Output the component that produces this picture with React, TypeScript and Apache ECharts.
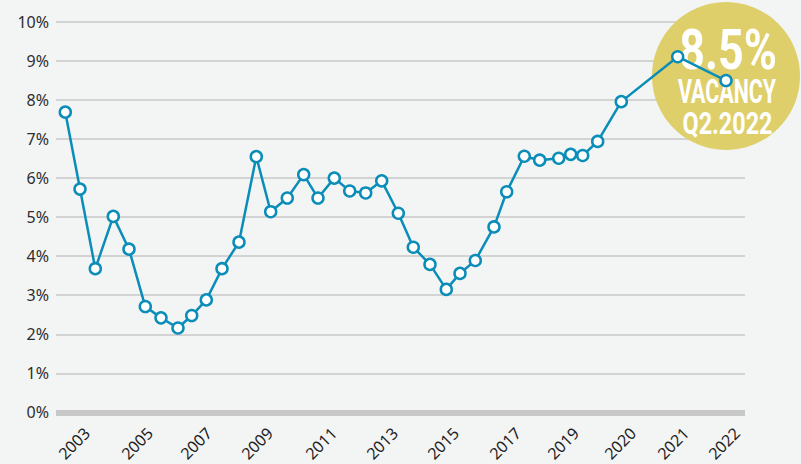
import React, { useEffect, useRef } from "react";
import * as echarts from "echarts";

// Position of each observation along the (non-linear) timeline, in axis units
const timelinePos = [
  9.3, 24, 39.3, 57.3, 73, 89.3, 105, 122, 135.7, 150.3, 166, 183, 200.3,
  214.7, 231.3, 247.7, 262, 278.3, 293.7, 309.7, 325.7, 342.3, 357.3, 374,
  390.3, 404, 419.3, 438, 450.7, 468.3, 483.7, 502.7, 514.7, 526.7, 541.7,
  565.3, 621.7, 670,
];
// Vacancy rate, %
const vacancy = [
  7.69, 5.72, 3.68, 5.02, 4.18, 2.71, 2.42, 2.16, 2.48, 2.88, 3.68, 4.36, 6.55,
  5.14, 5.49, 6.09, 5.49, 6.0, 5.67, 5.62, 5.93, 5.1, 4.23, 3.79, 3.15, 3.56,
  3.89, 4.75, 5.65, 6.56, 6.46, 6.51, 6.61, 6.58, 6.94, 7.96, 9.11, 8.5,
];
// Year tick labels and where they sit on the timeline
const yearLabels = [
  "2003", "2005", "2007", "2009", "2011", "2013", "2015", "2017", "2019",
  "2020", "2021", "2022",
];
const labelPos = [31, 94, 153, 214, 278, 339, 400, 462, 520, 577, 630, 681];
const yTicks = [0, 10, 1];

const badgeFont = (size: number) =>
  `bold ${size}px Roboto, "Noto Sans", sans-serif`;

export default function App() {
  const ref = useRef<HTMLDivElement>(null);
  useEffect(() => {
    if (!ref.current) return;
    const chart = echarts.init(ref.current, null, { renderer: "svg" });
    const data = timelinePos.map((x, i) => [x, vacancy[i]]);
    chart.setOption({
      animation: false,
      backgroundColor: "#f3f4f4",
      grid: { left: 56, right: 56, top: 22, bottom: 51, containLabel: false },
      xAxis: {
        type: "value",
        min: 0,
        max: 689,
        splitLine: { show: false },
        axisLine: { show: false },
        axisTick: { show: false },
        axisLabel: {
          customValues: labelPos,
          rotate: 45,
          margin: 18,
          fontSize: 16,
          color: "#1e1e1e",
          fontFamily: "Noto Sans",
          formatter: (v: number) => {
            const i = labelPos.indexOf(v);
            return i >= 0 ? yearLabels[i] : "";
          },
        },
      },
      yAxis: {
        type: "value",
        min: yTicks[0],
        max: yTicks[1],
        interval: yTicks[2],
        axisLine: { show: false },
        axisTick: { show: false },
        axisLabel: {
          formatter: "{value}%",
          fontSize: 16,
          color: "#2e2e2e",
          margin: 7,
          fontFamily: "Noto Sans",
        },
        splitLine: { lineStyle: { color: "#d3d3d3", width: 2 } },
      },
      graphic: [
        {
          type: "line",
          z: 1,
          shape: { x1: 56, y1: 413, x2: 745, y2: 413 },
          style: { stroke: "#c8c8c8", lineWidth: 6 },
        },
        {
          type: "circle",
          z: 1,
          shape: { cx: 726, cy: 76, r: 74 },
          style: { fill: "#dfcf6b" },
        },
        {
          type: "text",
          z: 2,
          x: 728,
          y: 50,
          scaleX: 0.8,
          style: {
            text: "8.5%",
            fill: "#ffffff",
            font: badgeFont(56),
            align: "center",
            verticalAlign: "middle",
          },
        },
        {
          type: "text",
          z: 2,
          x: 727,
          y: 91.5,
          scaleX: 0.63,
          style: {
            text: "VACANCY",
            fill: "#ffffff",
            font: badgeFont(34),
            align: "center",
            verticalAlign: "middle",
          },
        },
        {
          type: "text",
          z: 2,
          x: 727.5,
          y: 123,
          scaleX: 0.73,
          style: {
            text: "Q2.2022",
            fill: "#ffffff",
            font: badgeFont(32),
            align: "center",
            verticalAlign: "middle",
          },
        },
      ],
      series: [
        {
          type: "line",
          z: 5,
          data,
          symbol: "circle",
          symbolSize: 11,
          lineStyle: { color: "#0a8db8", width: 2.5 },
          itemStyle: { color: "#ffffff", borderColor: "#0a8db8", borderWidth: 2.5 },
        },
      ],
    });
    return () => chart.dispose();
  }, []);
  return (
    <div
      ref={ref}
      style={{ position: "fixed", left: 0, top: 0, width: 801, height: 464 }}
    />
  );
}
